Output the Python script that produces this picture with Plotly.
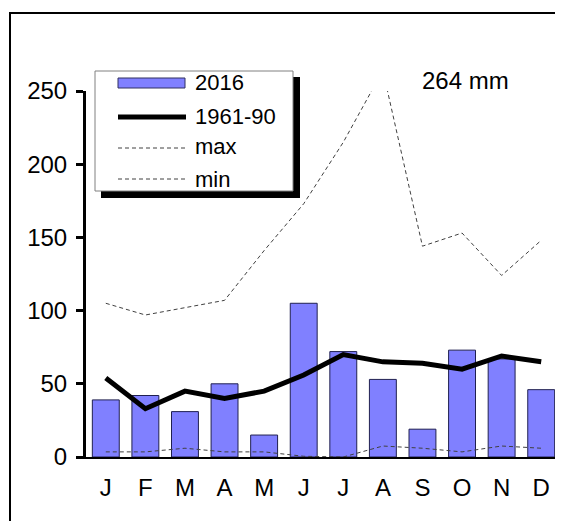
import plotly.graph_objects as go

months = ["J", "F", "M", "A", "M", "J", "J", "A", "S", "O", "N", "D"]
cats = [f"{m}{i}" for i, m in enumerate(months)]
rain_2016 = [39, 42, 31, 50, 15, 105, 72, 53, 19, 73, 67, 46]
normal_6190 = [54, 33, 45, 40, 45, 56, 70, 65, 64, 60, 69, 65]
max_vals = [105, 97, 102, 107, 141, 173, 215, 264, 144, 153, 124, 148]
min_vals = [3.5, 3.5, 6, 3.5, 3.5, 0.5, 0, 7.5, 6, 3.5, 7.5, 6]
y_ticks = [0, 50, 100, 150, 200, 250]
annotation_text = "264 mm"

# page body has an 8px margin, so the figure is drawn 8px smaller
OFF = 8
W, H = 563 - OFF, 521 - OFF
PLOT_L, PLOT_R, PLOT_T, PLOT_B = 86, 561, 91, 457  # in screen pixels
L, T = PLOT_L - OFF, PLOT_T - OFF
R = W - (PLOT_R - OFF)
B = H - (PLOT_B - OFF)
PW, PH = PLOT_R - PLOT_L, PLOT_B - PLOT_T


def px(x):
    return (x - PLOT_L) / PW


def py(y):
    return (PLOT_B - y) / PH


FONT = "Liberation Sans, Arial, sans-serif"

fig = go.Figure()
fig.add_bar(x=cats, y=rain_2016, marker=dict(color="#8080FF", line=dict(color="#202050", width=1)),
            name="2016", showlegend=False)
fig.add_scatter(x=cats, y=max_vals, mode="lines", line=dict(color="#404040", width=1, dash="4px,3px"),
                name="max", showlegend=False)
fig.add_scatter(x=cats, y=min_vals, mode="lines", line=dict(color="#404040", width=1, dash="4px,3px"),
                name="min", showlegend=False)
fig.add_scatter(x=cats, y=normal_6190, mode="lines", line=dict(color="black", width=5),
                name="1961-90", showlegend=False)

shapes = [
    # outer border
    dict(type="rect", xref="paper", yref="paper", x0=px(10), x1=px(600), y0=py(560), y1=py(13),
         line=dict(color="black", width=2), fillcolor="rgba(0,0,0,0)", layer="below"),
    # legend shadow
    dict(type="rect", xref="paper", yref="paper", x0=px(101), x1=px(300), y0=py(198), y1=py(77),
         line=dict(width=0), fillcolor="black"),
    # legend box
    dict(type="rect", xref="paper", yref="paper", x0=px(95), x1=px(293), y0=py(191), y1=py(71),
         line=dict(color="#808080", width=1), fillcolor="white"),
    # 2016 swatch
    dict(type="rect", xref="paper", yref="paper", x0=px(118), x1=px(185), y0=py(88), y1=py(78),
         line=dict(color="#303060", width=1), fillcolor="#8080FF"),
    # 1961-90 swatch
    dict(type="line", xref="paper", yref="paper", x0=px(118), x1=px(186), y0=py(117), y1=py(117),
         line=dict(color="black", width=5)),
    # max swatch
    dict(type="line", xref="paper", yref="paper", x0=px(118), x1=px(185), y0=py(148), y1=py(148),
         line=dict(color="#404040", width=1, dash="4px,3px")),
    # min swatch
    dict(type="line", xref="paper", yref="paper", x0=px(118), x1=px(185), y0=py(179), y1=py(179),
         line=dict(color="#404040", width=1, dash="4px,3px")),
]

legend_labels = [("2016", 83), ("1961-90", 117), ("max", 147), ("min", 179)]
annotations = [
    dict(text=t, xref="paper", yref="paper", x=px(193), y=py(yy), xanchor="left", yanchor="middle",
         showarrow=False, font=dict(family=FONT, size=22, color="black"))
    for t, yy in legend_labels
]
annotations.append(dict(text=annotation_text, xref="paper", yref="paper", x=px(465), y=py(81),
                        xanchor="center", yanchor="middle", showarrow=False,
                        font=dict(family=FONT, size=24, color="black")))

fig.update_layout(
    width=W, height=H,
    margin=dict(l=L, r=R, t=T, b=B, pad=0),
    paper_bgcolor="white", plot_bgcolor="white",
    bargap=0.32,
    showlegend=False,
    shapes=shapes,
    annotations=annotations,
    font=dict(family=FONT, size=24, color="black"),
    xaxis=dict(type="category", range=[-0.5, 11.5], tickvals=cats, ticktext=months,
               showline=True, linecolor="black", linewidth=2, ticks="", showgrid=False,
               zeroline=False, ticklabelstandoff=8, tickfont=dict(size=24)),
    yaxis=dict(range=[0, 250], tickvals=y_ticks, showline=True, linecolor="black", linewidth=3,
               ticks="outside", ticklen=7, tickwidth=3, tickcolor="black", showgrid=False,
               zeroline=False, tickfont=dict(size=24), ticklabelstandoff=4),
)

fig.write_html("out.html")
